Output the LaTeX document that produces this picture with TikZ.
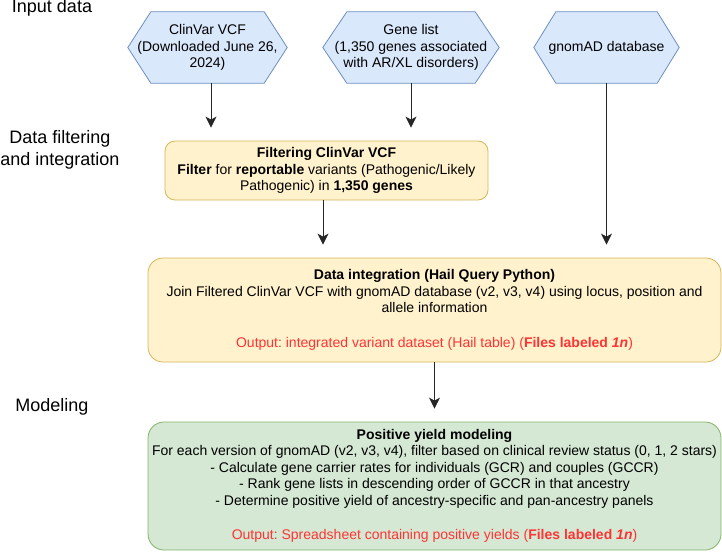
\documentclass[tikz,border=0pt]{standalone}
\usepackage{fontspec}
\setmainfont{Liberation Sans}
\usetikzlibrary{arrows.meta,backgrounds}
\frenchspacing
\definecolor{hexfill}{HTML}{DAE8FC}
\definecolor{hexline}{HTML}{6C8EBF}
\definecolor{yfill}{HTML}{FFF2CC}
\definecolor{yline}{HTML}{D6B656}
\definecolor{gfill}{HTML}{D5E8D4}
\definecolor{gline}{HTML}{82B366}
\definecolor{outred}{HTML}{FF3333}
\newcommand\hexdraw[2]{%
  \draw[hexshape] ([xshift=#2pt]#1.north west) -- ([xshift=-#2pt]#1.north east) -- (#1.east)
    -- ([xshift=-#2pt]#1.south east) -- ([xshift=#2pt]#1.south west) -- (#1.west) -- cycle;}
\begin{document}
\begin{tikzpicture}[x=1pt,y=-1pt,
  body/.style={font=\fontsize{14}{16.5}\selectfont, align=center, inner sep=0pt, text=black},
  hexbox/.style={body, minimum width=#1, minimum height=71},
  hexshape/.style={draw=hexline, fill=hexfill, line width=0.8pt},
  ybox/.style={body, draw=yline, fill=yfill, line width=0.8pt},
  gbox/.style={body, draw=gline, fill=gfill, line width=0.8pt},
  lab/.style={font=\fontsize{18}{22}\selectfont, align=center, inner sep=0pt},
  arr/.style={draw=black!85, line width=0.9pt, -{Stealth[length=11pt,width=11pt,inset=3pt]}, shorten >=13pt}]
\useasboundingbox (0,0) rectangle (722,551);

% left labels
\node[lab, anchor=base] (inp) at (52,13) {Input data};
\node[lab] (dfi) at (60,149.5) {Data filtering\\and integration};
\node[lab, anchor=base] (mod) at (52,411) {Modeling};

% input hexagons
\node[hexbox=159] (clin) at (207.5,47.5) {ClinVar VCF\\(Downloaded June 26,\\2024)};
\node[hexbox=176] (gene) at (411,47.5) {Gene list\\(1,350 genes associated\\with AR/XL disorders)};
\node[hexbox=145] (gnom) at (606.5,47.5) {gnomAD database};
\begin{scope}[on background layer]
  \hexdraw{clin}{23}
  \hexdraw{gene}{24}
  \hexdraw{gnom}{22}
\end{scope}

% filtering box
\node[ybox, rounded corners=10pt, minimum width=323, minimum height=59] (filt) at (326.5,170.5)
  {\textbf{Filtering ClinVar VCF}\\\textbf{Filter} for \textbf{reportable} variants (Pathogenic/Likely\\Pathogenic) in \textbf{1,350 genes}};

% integration box
\node[ybox, rounded corners=15pt, minimum width=573, minimum height=104] (integ) at (434.5,310)
  {\textbf{Data integration (Hail Query Python)}\\
   Join Filtered ClinVar VCF with gnomAD database (v2, v3, v4) using locus, position and\\
   allele information\\[18pt]
   \textcolor{outred}{Output: integrated variant dataset (Hail table) (\textbf{Files labeled \textit{1n}})}};

% modeling box
\node[gbox, rounded corners=16pt, minimum width=573, minimum height=128] (model) at (434.5,486)
  {\textbf{Positive yield modeling}\\
   For each version of gnomAD (v2, v3, v4), filter based on clinical review status (0, 1, 2 stars)\\
   - Calculate gene carrier rates for individuals (GCR) and couples (GCCR)\\
   - Rank gene lists in descending order of GCCR in that ancestry\\
   - Determine positive yield of ancestry-specific and pan-ancestry panels\\[18pt]
   \textcolor{outred}{Output: Spreadsheet containing positive yields (\textbf{Files labeled \textit{1n}})}};

% connectors
\draw[arr] ([xshift=3.5pt]clin.south) -- ([xshift=3.5pt]clin.south |- filt.north);
\draw[arr] (gene.south) -- (gene.south |- filt.north);
\draw[arr] ([xshift=-3.5pt]filt.south) -- ([xshift=-3.5pt]filt.south |- integ.north);
\draw[arr] (gnom.south) -- (gnom.south |- integ.north);
\draw[arr] (integ.south) -- (model.north);
\end{tikzpicture}
\end{document}
